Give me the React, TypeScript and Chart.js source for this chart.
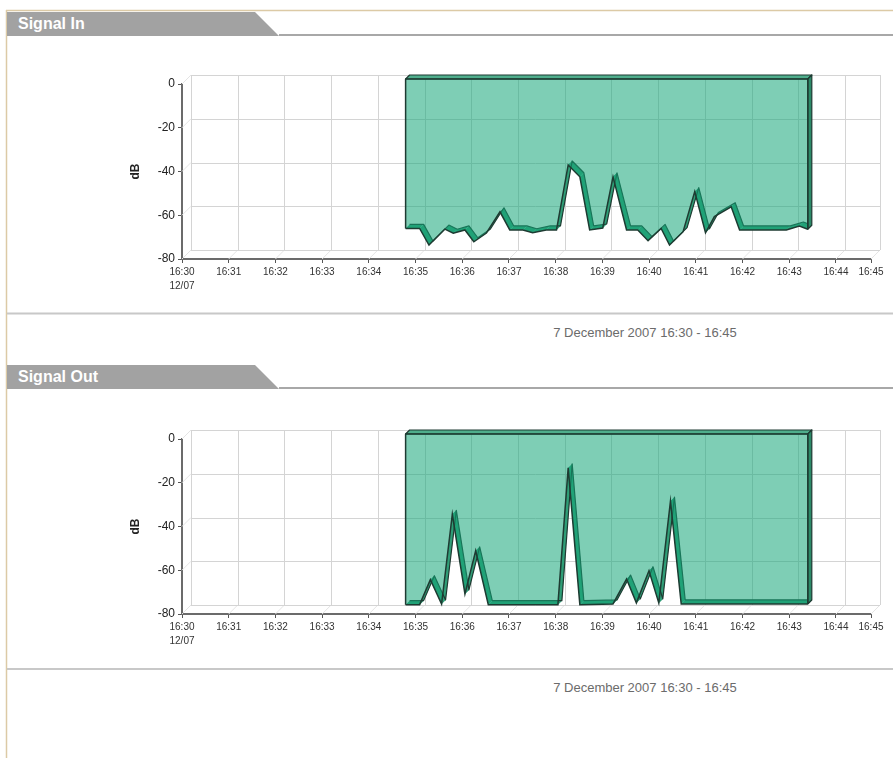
import React, { useEffect, useRef } from 'react';
import { Chart, registerables } from 'chart.js';

Chart.register(...registerables);

// ---- data ----
const xTickValues = [0, 1, 2, 3, 4, 5, 6, 7, 8, 9, 10, 11, 12, 13, 14, 14.75];
const xTickLabels = ['16:30', '16:31', '16:32', '16:33', '16:34', '16:35', '16:36', '16:37', '16:38', '16:39', '16:40', '16:41', '16:42', '16:43', '16:44', '16:45'];
const firstTickDate = '12/07';
const yTickValues = [0, -20, -40, -60, -80];
const yAxisTitle = 'dB';
const dateCaption = '7 December 2007 16:30 - 16:45';

// minutes after 16:30
const inMinutes = [4.68, 4.98, 5.18, 5.52, 5.70, 5.95, 6.14, 6.41, 6.70, 6.91, 7.19, 7.40, 7.69, 7.91, 8.16, 8.41, 8.62, 8.90, 9.12, 9.41, 9.65, 9.87, 10.15, 10.33, 10.62, 10.87, 11.10, 11.29, 11.65, 11.83, 12.83, 13.11, 13.29];
const inLevels = [-68.3, -68.3, -75.9, -68.6, -70.5, -69.0, -74.4, -70.4, -60.7, -69.0, -69.0, -70.3, -69.0, -69.0, -39.3, -44.7, -69.0, -68.1, -44.7, -69.0, -69.0, -73.9, -68.3, -75.9, -69.8, -51.5, -70.3, -62.9, -58.4, -69.0, -69.0, -67.2, -68.7];

const outMinutes = [4.68, 4.98, 5.21, 5.45, 5.68, 5.95, 6.18, 6.45, 7.94, 8.16, 8.41, 9.12, 9.41, 9.62, 9.89, 10.10, 10.35, 10.58, 13.29];
const outLevels = [-78, -78, -66.6, -77.7, -36.7, -73.1, -53.4, -78, -78, -15.5, -78, -77.7, -66.3, -77.2, -62.5, -77.2, -30.7, -77.7, -77.7];

// ---- styling constants ----
const WALL = 9;
const S_FRONT = 5;
const S_BACK = 9;
const FILL = 'rgba(20,165,120,0.55)';
const BAND = '#2f9e77';
const TOPFACE = '#4fae8c';
const SIDEFACE = '#2c8a68';
const DARK = '#1e3b32';
const FONT = '"Liberation Sans", Arial, sans-serif';

const depthPlugin = {
  id: 'depth3d',
  beforeDatasetsDraw(chart: any) {
    const { ctx, chartArea: a, scales } = chart;
    const xs = scales.x;
    const ys = scales.y;
    ctx.save();
    ctx.lineWidth = 1;
    // side wall + floor diagonals
    ctx.strokeStyle = '#e4e4e4';
    ctx.beginPath();
    ys.ticks.forEach((t: any) => {
      const py = ys.getPixelForValue(t.value);
      ctx.moveTo(a.left, py);
      ctx.lineTo(a.left + WALL, py - WALL);
    });
    xs.ticks.forEach((t: any) => {
      const px = xs.getPixelForValue(t.value);
      ctx.moveTo(px, a.bottom);
      ctx.lineTo(px + WALL, a.bottom - WALL);
    });
    ctx.stroke();
    // back wall grid
    ctx.strokeStyle = '#d4d4d4';
    ctx.beginPath();
    ys.ticks.forEach((t: any) => {
      const py = Math.round(ys.getPixelForValue(t.value) - WALL) + 0.5;
      ctx.moveTo(a.left + WALL, py);
      ctx.lineTo(a.right + WALL, py);
    });
    xs.ticks.forEach((t: any) => {
      const px = Math.round(xs.getPixelForValue(t.value) + WALL) + 0.5;
      ctx.moveTo(px, a.top - WALL);
      ctx.lineTo(px, a.bottom - WALL);
    });
    ctx.stroke();

    // series depth parts
    const meta = chart.getDatasetMeta(0);
    const pts = meta.data.map((e: any) => ({ x: e.x, y: e.y }));
    const n = pts.length;
    const y0 = ys.getPixelForValue(0);
    ctx.lineJoin = 'round';
    ctx.fillStyle = BAND;
    for (let i = 0; i < n - 1; i++) {
      const p = pts[i];
      const q = pts[i + 1];
      ctx.beginPath();
      ctx.moveTo(p.x + S_FRONT, p.y - S_FRONT);
      ctx.lineTo(q.x + S_FRONT, q.y - S_FRONT);
      ctx.lineTo(q.x + S_BACK, q.y - S_BACK);
      ctx.lineTo(p.x + S_BACK, p.y - S_BACK);
      ctx.closePath();
      ctx.fill();
    }
    ctx.strokeStyle = DARK;
    ctx.lineWidth = 1.2;
    ctx.beginPath();
    pts.forEach((p: any, i: number) => {
      if (i === 0) ctx.moveTo(p.x + S_BACK, p.y - S_BACK);
      else ctx.lineTo(p.x + S_BACK, p.y - S_BACK);
    });
    ctx.stroke();
    const f0 = pts[0];
    const fn = pts[n - 1];
    ctx.fillStyle = TOPFACE;
    ctx.beginPath();
    ctx.moveTo(f0.x + S_FRONT, y0 - S_FRONT);
    ctx.lineTo(fn.x + S_FRONT, y0 - S_FRONT);
    ctx.lineTo(fn.x + S_BACK, y0 - S_BACK);
    ctx.lineTo(f0.x + S_BACK, y0 - S_BACK);
    ctx.closePath();
    ctx.fill();
    ctx.stroke();
    ctx.fillStyle = SIDEFACE;
    ctx.beginPath();
    ctx.moveTo(fn.x + S_FRONT, fn.y - S_FRONT);
    ctx.lineTo(fn.x + S_FRONT, y0 - S_FRONT);
    ctx.lineTo(fn.x + S_BACK, y0 - S_BACK);
    ctx.lineTo(fn.x + S_BACK, fn.y - S_BACK);
    ctx.closePath();
    ctx.fill();
    ctx.stroke();
    ctx.restore();

    ctx.save();
    ctx.translate(S_FRONT, -S_FRONT);
  },
  afterDatasetsDraw(chart: any) {
    const { ctx, scales } = chart;
    ctx.restore();
    const meta = chart.getDatasetMeta(0);
    const pts = meta.data;
    const n = pts.length;
    const y0 = scales.y.getPixelForValue(0);
    ctx.save();
    ctx.strokeStyle = DARK;
    ctx.lineWidth = 1.5;
    ctx.lineJoin = 'round';
    ctx.beginPath();
    ctx.moveTo(pts[0].x + S_FRONT, pts[0].y - S_FRONT);
    ctx.lineTo(pts[0].x + S_FRONT, y0 - S_FRONT);
    ctx.lineTo(pts[n - 1].x + S_FRONT, y0 - S_FRONT);
    ctx.lineTo(pts[n - 1].x + S_FRONT, pts[n - 1].y - S_FRONT);
    ctx.stroke();
    ctx.restore();
  },
};

function SignalChart({ minutes, levels, top }: { minutes: number[]; levels: number[]; top: number }) {
  const ref = useRef<HTMLCanvasElement | null>(null);
  useEffect(() => {
    if (!ref.current) return;
    const chart = new Chart(ref.current, {
      type: 'line',
      data: {
        datasets: [
          {
            data: minutes.map((m, i) => ({ x: m, y: levels[i] })),
            fill: 'origin',
            backgroundColor: FILL,
            borderColor: DARK,
            borderWidth: 1.5,
            pointRadius: 0,
            tension: 0,
          },
        ],
      },
      options: {
        animation: false,
        responsive: false,
        maintainAspectRatio: false,
        events: [],
        layout: { padding: { left: 120, top: 44, right: 22, bottom: 11 } },
        plugins: { legend: { display: false }, tooltip: { enabled: false } },
        scales: {
          x: {
            type: 'linear',
            min: 0,
            max: xTickValues[xTickValues.length - 1],
            afterBuildTicks: (s: any) => {
              s.ticks = xTickValues.map((v) => ({ value: v }));
            },
            afterFit: (s: any) => {
              s.height = 40;
            },
            grid: { display: true, drawOnChartArea: false, drawTicks: true, tickLength: 4, tickColor: '#555', lineWidth: 1 },
            border: { display: true, color: '#6b6b6b', width: 2 },
            ticks: {
              autoSkip: false,
              maxRotation: 0,
              minRotation: 0,
              padding: 2,
              color: '#333',
              font: { family: FONT, size: 10, lineHeight: 1.4 },
              callback: (_v: any, i: number) => (i === 0 ? [xTickLabels[0], firstTickDate] : xTickLabels[i]),
            },
          },
          y: {
            type: 'linear',
            min: -80,
            max: 0,
            afterBuildTicks: (s: any) => {
              s.ticks = yTickValues.map((v) => ({ value: v }));
            },
            afterFit: (s: any) => {
              s.width = 62;
            },
            title: {
              display: true,
              text: yAxisTitle,
              color: '#222',
              font: { family: FONT, size: 12, weight: 'bold' },
              padding: { top: 8, bottom: 0 },
            },
            grid: { display: true, drawOnChartArea: false, drawTicks: true, tickLength: 4, tickColor: '#555', lineWidth: 1 },
            border: { display: true, color: '#6b6b6b', width: 2 },
            ticks: {
              padding: 3,
              color: '#222',
              font: { family: FONT, size: 12 },
            },
          },
        },
      } as any,
      plugins: [depthPlugin as any],
    });
    return () => chart.destroy();
  }, [minutes, levels]);
  return (
    <canvas
      ref={ref}
      width={893}
      height={270}
      style={{ position: 'absolute', left: 0, top, width: 893, height: 270 }}
    />
  );
}

function Header({ title, y }: { title: string; y: number }) {
  return (
    <g>
      <polygon points={`7,${y} 255,${y} 279,${y + 24} 7,${y + 24}`} fill="#a2a2a2" />
      <line x1={279} y1={y + 23} x2={893} y2={y + 23} stroke="#a8a8a8" strokeWidth={2} />
      <text x={18} y={y + 17} fill="#ffffff" fontFamily={FONT} fontSize={16} fontWeight="bold">
        {title}
      </text>
    </g>
  );
}

export default function App() {
  return (
    <div style={{ position: 'absolute', left: 0, top: 0, width: 893, height: 758, background: '#fff', overflow: 'hidden' }}>
      <svg width={893} height={758} style={{ position: 'absolute', left: 0, top: 0 }}>
        <line x1={6} y1={10.5} x2={893} y2={10.5} stroke="#dccaa6" strokeWidth={1.5} />
        <line x1={6.5} y1={10} x2={6.5} y2={758} stroke="#dccaa6" strokeWidth={1.5} />
        <Header title="Signal In" y={12} />
        <line x1={7} y1={313.5} x2={893} y2={313.5} stroke="#c8c8c8" strokeWidth={2} />
        <text x={645} y={336.5} textAnchor="middle" fill="#6b6b6b" fontFamily={FONT} fontSize={13}>
          {dateCaption}
        </text>
        <Header title="Signal Out" y={365} />
        <line x1={7} y1={669} x2={893} y2={669} stroke="#c8c8c8" strokeWidth={2} />
        <text x={645} y={691.5} textAnchor="middle" fill="#6b6b6b" fontFamily={FONT} fontSize={13}>
          {dateCaption}
        </text>
      </svg>
      <SignalChart minutes={inMinutes} levels={inLevels} top={40} />
      <SignalChart minutes={outMinutes} levels={outLevels} top={395} />
    </div>
  );
}
